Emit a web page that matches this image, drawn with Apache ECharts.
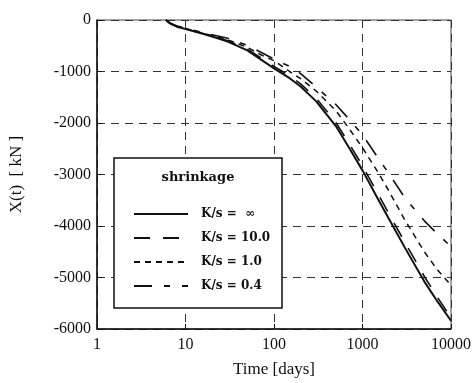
<!DOCTYPE html>
<html><head><meta charset="utf-8">
<script src="https://cdn.jsdelivr.net/npm/echarts@6/dist/echarts.min.js"></script>
<style>html,body{margin:0;padding:0;background:#fff}#c{width:474px;height:383px}</style>
</head><body><div id="c"></div>
<script>
const times = [6, 6.5, 7, 8, 10, 15, 20, 30, 50, 70, 100, 150, 200, 300, 500, 700, 1000, 1500, 2000, 3000, 5000, 7000, 10000];
const ksInf = [0, -50, -85, -130, -175, -260, -320, -420, -590, -760, -940, -1130, -1290, -1580, -2060, -2470, -2920, -3480, -3870, -4415, -5080, -5460, -5840];
const ks10  = [0, -48, -82, -126, -170, -252, -310, -405, -565, -725, -900, -1085, -1240, -1520, -1990, -2390, -2830, -3380, -3770, -4310, -4980, -5380, -5780];
const ks1   = [0, -48, -80, -122, -165, -245, -300, -385, -530, -670, -790, -1000, -1140, -1380, -1760, -2100, -2480, -2960, -3330, -3880, -4500, -4850, -5150];
const ks04  = [0, -45, -75, -115, -155, -235, -285, -355, -490, -620, -760, -900, -1040, -1300, -1640, -1920, -2230, -2680, -2990, -3450, -3900, -4150, -4400];
const seriesNames = ['K/s =  \u221E', 'K/s = 10.0', 'K/s = 1.0', 'K/s = 0.4'];
const xTicks = [1, 10, 100, 1000, 10000];
const yTicks = [0, -1000, -2000, -3000, -4000, -5000, -6000];

const serif = 'Liberation Serif';
function pairs(ys){ return times.map((t,i)=>[t, ys[i]]); }
const styles = [
  {type:'solid', width:2},
  {type:[16,13], width:1.6},
  {type:[6,5], width:1.5},
  {type:[18,12,6,12], width:1.6}
];
const data = [ksInf, ks10, ks1, ks04];
const chart = echarts.init(document.getElementById('c'));
chart.setOption({
  animation:false,
  backgroundColor:'#fff',
  grid:{left:93, right:22, top:20, bottom:52, show:true, borderColor:'#444', borderWidth:1},
  xAxis:{type:'log', logBase:10, min:1, max:10000,
    name:'Time [days]', nameLocation:'middle', nameGap:32,
    nameTextStyle:{fontFamily:serif, fontSize:17, color:'#111'},
    axisLine:{show:true, onZero:false, lineStyle:{color:'#111', width:1.5}},
    axisTick:{show:true, inside:true, length:5, lineStyle:{color:'#111'}},
    minorTick:{show:false},
    axisLabel:{fontFamily:serif, fontSize:16, color:'#111', margin:8,
      formatter:v=>xTicks.includes(Math.round(v))?String(Math.round(v)):''},
    splitLine:{show:true, lineStyle:{type:[8,6], color:'#333', width:1}}
  },
  yAxis:{type:'value', min:-6000, max:0, interval:1000,
    name:'X(t)  [ kN ]', nameLocation:'middle', nameGap:72, nameRotate:90,
    nameTextStyle:{fontFamily:serif, fontSize:17, color:'#111'},
    axisLine:{show:true, onZero:false, lineStyle:{color:'#111', width:1.5}},
    axisTick:{show:true, inside:true, length:5, lineStyle:{color:'#111'}},
    axisLabel:{fontFamily:serif, fontSize:16, color:'#111', margin:6,
      formatter:v=>yTicks.includes(v)?String(v):''},
    splitLine:{show:true, lineStyle:{type:[8,6], color:'#333', width:1}}
  },
  graphic:[
    {type:'rect', shape:{x:114, y:158, width:168, height:150}, z:100,
     style:{fill:'#fff', stroke:'#111', lineWidth:1.5}},
    {type:'text', x:198, y:178, z:101,
     style:{text:'shrinkage', fontFamily:'DejaVu Serif', fontWeight:'bold', fontSize:13,
       fill:'#111', align:'center', verticalAlign:'middle'}}
  ],
  legend:{show:true, orient:'vertical', left:128, top:203, z:110,
    itemWidth:54, itemHeight:14, itemGap:12,
    data:seriesNames,
    itemStyle:{opacity:0},
    textStyle:{fontFamily:'DejaVu Serif', fontWeight:'bold', fontSize:12, color:'#111', padding:[0,0,0,8]}
  },
  series:data.map((d,i)=>({
    name:seriesNames[i], type:'line', data:pairs(d), smooth:false,
    symbol:'none', showSymbol:false,
    lineStyle:{color:'#111', type:styles[i].type, width:styles[i].width},
    itemStyle:{color:'#111'}
  }))
});
</script></body></html>
